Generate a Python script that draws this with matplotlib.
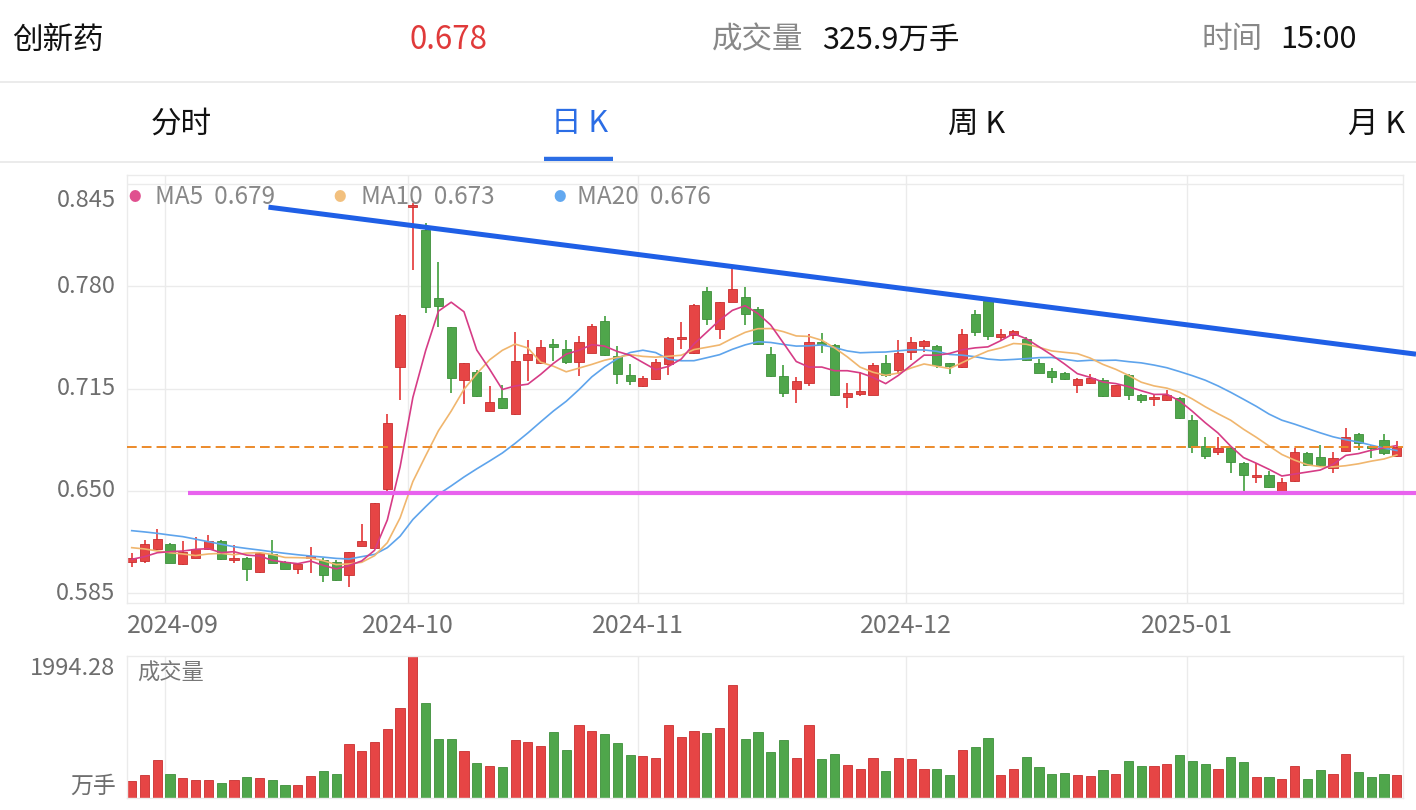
import numpy as np
import pandas as pd
import matplotlib
matplotlib.use('Agg')
import matplotlib.pyplot as plt

plt.rcParams['font.family'] = ['Noto Sans CJK SC', 'DejaVu Sans']

name = '创新药'
tabs = ['分时', '日 K', '周 K', '月 K']
active_tab = '日 K'
time_text = '15:00'

# daily candles (price in yuan)
opens = [0.6051, 0.6057, 0.6132, 0.6163, 0.6034, 0.6077, 0.6129, 0.6184, 0.6062, 0.6077,
         0.5983, 0.6098, 0.6051, 0.6005, 0.6072, 0.6062, 0.6051, 0.5966, 0.6153, 0.6136,
         0.6513, 0.7285, 0.8300, 0.8155, 0.7726, 0.7541, 0.7203, 0.7256, 0.7010, 0.7088,
         0.6989, 0.7331, 0.7311, 0.7433, 0.7398, 0.7321, 0.7376, 0.7577, 0.7359, 0.7238,
         0.7168, 0.7211, 0.7306, 0.7465, 0.7376, 0.7772, 0.7529, 0.7698, 0.7730, 0.7656,
         0.7372, 0.7228, 0.7150, 0.7188, 0.7446, 0.7429, 0.7097, 0.7114, 0.7108, 0.7309,
         0.7266, 0.7383, 0.7421, 0.7419, 0.7309, 0.7288, 0.7620, 0.7704, 0.7474, 0.7489,
         0.7467, 0.7309, 0.7260, 0.7250, 0.7172, 0.7182, 0.7207, 0.7102, 0.7235, 0.7108,
         0.7082, 0.7074, 0.7091, 0.6950, 0.6785, 0.6749, 0.6775, 0.6675, 0.6586, 0.6601,
         0.6495, 0.6565, 0.6738, 0.6717, 0.6643, 0.6756, 0.6860, 0.6785, 0.6822, 0.6721]
highs = [0.6108, 0.6189, 0.6256, 0.6172, 0.6184, 0.6206, 0.6220, 0.6188, 0.6157, 0.6083,
         0.6108, 0.6189, 0.6057, 0.6041, 0.6146, 0.6072, 0.6062, 0.6115, 0.6288, 0.6426,
         0.6987, 0.7622, 0.8327, 0.8198, 0.7954, 0.7541, 0.7314, 0.7267, 0.7164, 0.7173,
         0.7507, 0.7455, 0.7455, 0.7464, 0.7455, 0.7486, 0.7560, 0.7613, 0.7422, 0.7306,
         0.7230, 0.7338, 0.7476, 0.7571, 0.7688, 0.7793, 0.7702, 0.7912, 0.7793, 0.7666,
         0.7414, 0.7302, 0.7224, 0.7493, 0.7503, 0.7435, 0.7188, 0.7252, 0.7309, 0.7362,
         0.7461, 0.7478, 0.7461, 0.7425, 0.7315, 0.7525, 0.7647, 0.7732, 0.7525, 0.7520,
         0.7478, 0.7340, 0.7283, 0.7256, 0.7214, 0.7241, 0.7214, 0.7171, 0.7241, 0.7118,
         0.7108, 0.7139, 0.7097, 0.6981, 0.6845, 0.6845, 0.6781, 0.6686, 0.6675, 0.6628,
         0.6580, 0.6770, 0.6749, 0.6792, 0.6749, 0.6898, 0.6866, 0.6792, 0.6864, 0.6818]
lows = [0.6019, 0.6045, 0.6125, 0.6041, 0.6030, 0.6072, 0.6125, 0.6062, 0.6041, 0.5930,
        0.5981, 0.6041, 0.6003, 0.5971, 0.5981, 0.5920, 0.5931, 0.5892, 0.6151, 0.6132,
        0.6502, 0.7078, 0.7903, 0.7627, 0.7542, 0.7123, 0.7049, 0.7097, 0.7010, 0.7019,
        0.6985, 0.7200, 0.7307, 0.7327, 0.7307, 0.7228, 0.7376, 0.7355, 0.7180, 0.7175,
        0.7158, 0.7207, 0.7236, 0.7401, 0.7370, 0.7555, 0.7465, 0.7698, 0.7555, 0.7427,
        0.7224, 0.7097, 0.7055, 0.7165, 0.7376, 0.7104, 0.7028, 0.7101, 0.7108, 0.7225,
        0.7245, 0.7334, 0.7383, 0.7278, 0.7241, 0.7278, 0.7485, 0.7457, 0.7457, 0.7465,
        0.7327, 0.7246, 0.7188, 0.7204, 0.7123, 0.7178, 0.7097, 0.7102, 0.7076, 0.7059,
        0.7040, 0.7068, 0.6954, 0.6739, 0.6700, 0.6728, 0.6612, 0.6502, 0.6553, 0.6517,
        0.6495, 0.6559, 0.6659, 0.6654, 0.6616, 0.6749, 0.6760, 0.6707, 0.6728, 0.6717]
closes = [0.6077, 0.6163, 0.6193, 0.6045, 0.6115, 0.6132, 0.6184, 0.6066, 0.6077, 0.6005,
          0.6104, 0.6045, 0.6005, 0.6034, 0.6087, 0.5966, 0.5935, 0.6110, 0.6182, 0.6422,
          0.6930, 0.7618, 0.8315, 0.7669, 0.7673, 0.7214, 0.7314, 0.7101, 0.7063, 0.7027,
          0.7327, 0.7370, 0.7412, 0.7412, 0.7321, 0.7448, 0.7549, 0.7365, 0.7243, 0.7200,
          0.7219, 0.7321, 0.7469, 0.7476, 0.7681, 0.7592, 0.7698, 0.7783, 0.7624, 0.7433,
          0.7228, 0.7123, 0.7199, 0.7446, 0.7435, 0.7112, 0.7123, 0.7133, 0.7302, 0.7235,
          0.7376, 0.7446, 0.7450, 0.7299, 0.7292, 0.7493, 0.7506, 0.7482, 0.7495, 0.7516,
          0.7331, 0.7250, 0.7220, 0.7210, 0.7210, 0.7214, 0.7102, 0.7171, 0.7112, 0.7080,
          0.7097, 0.7108, 0.6960, 0.6781, 0.6721, 0.6770, 0.6686, 0.6601, 0.6601, 0.6527,
          0.6559, 0.6749, 0.6664, 0.6664, 0.6706, 0.6845, 0.6807, 0.6770, 0.6738, 0.6780]
# volume in 万手
volumes = [238, 321, 527, 331, 284, 252, 247, 205, 256, 294,
           284, 247, 186, 186, 303, 377, 340, 764, 657, 783,
           964, 1258, 1994.28, 1337, 829, 829, 657, 494, 447, 438,
           815, 783, 727, 923, 680, 1030, 941, 899, 769, 601,
           587, 568, 1020, 857, 937, 909, 978, 1589, 825, 923,
           648, 815, 559, 1020, 550, 615, 466, 410, 568, 377,
           568, 550, 410, 410, 317, 676, 713, 839, 321, 410,
           573, 433, 340, 354, 321, 308, 387, 335, 517, 452,
           447, 480, 606, 522, 480, 401, 573, 508, 289, 298,
           270, 443, 270, 391, 340, 624, 368, 298, 335, 325.9]
# moving averages before their window is full (earlier data not on screen)
ma5_head = [0.6066, 0.6083, 0.6108, 0.6115]
ma10_head = [0.6140, 0.6132, 0.6119, 0.6108, 0.6100, 0.6090, 0.6100, 0.6104, 0.6095]
ma20_head = [0.6248, 0.6240, 0.6231, 0.6220, 0.6210, 0.6194, 0.6178, 0.6162, 0.6146, 0.6135,
             0.6125, 0.6114, 0.6104, 0.6095, 0.6087, 0.6080, 0.6072, 0.6068, 0.6083]

price_ticks = [0.845, 0.780, 0.715, 0.650, 0.585]
holidays = ['2024-09-16', '2024-09-17', '2024-10-01', '2024-10-02', '2024-10-03',
            '2024-10-04', '2024-10-07']
# hand drawn lines on the chart: (bar index, price)
resistance = [(10.7, 0.8301), (100.5, 0.7368)]
support = [(4.4, 0.6484), (100.5, 0.6484)]

dates = pd.bdate_range('2024-08-28', '2025-01-24')
dates = dates[~dates.isin(pd.to_datetime(holidays))]

O = np.array(opens); H = np.array(highs); L = np.array(lows); C = np.array(closes)
V = np.array(volumes)
n = len(C)
x = np.arange(n)

cs = pd.Series(C)
ma = {}
for w, head in [(5, ma5_head), (10, ma10_head), (20, ma20_head)]:
    m = cs.rolling(w).mean().to_numpy()
    m[:w - 1] = head
    ma[w] = m

RED = '#e64545'
GREEN = '#4fa64b'
RED_E = '#c92f2f'
GREEN_E = '#3d8f3a'
GRID = '#ebebeb'
GRAY = '#6e6e6e'

W, Hh = 1416, 810
fig = plt.figure(figsize=(W / 100, Hh / 100), dpi=100)

def fx(px):
    return px / W

def fy(py):
    return 1 - py / Hh

# header
fig.text(fx(12), fy(40), name, fontsize=22, color='#111111', va='center', ha='left')
fig.text(fx(448), fy(40), f'{C[-1]:.3f}', fontsize=22.5, color='#e03a3a', va='center', ha='center')
fig.text(fx(712), fy(40), '成交量', fontsize=22, color='#888888', va='center', ha='left')
fig.text(fx(822), fy(40), f'{V[-1]:.1f}万手', fontsize=22, color='#111111', va='center', ha='left')
fig.text(fx(1202), fy(40), '时间', fontsize=22, color='#888888', va='center', ha='left')
fig.text(fx(1280), fy(40), time_text, fontsize=22, color='#111111', va='center', ha='left')
fig.add_artist(plt.Line2D([0, 1], [fy(82), fy(82)], color='#e8e8e8', lw=1.2))

tab_x = [181, 580, 977, 1377]
for t, tx in zip(tabs, tab_x):
    col = '#2b6de5' if t == active_tab else '#111111'
    fig.text(fx(tx), fy(124), t, fontsize=22, color=col, va='center', ha='center')
fig.add_artist(plt.Line2D([fx(544), fx(613)], [fy(159), fy(159)], color='#2b6de5', lw=3.2,
                          solid_capstyle='butt'))
fig.add_artist(plt.Line2D([0, 1], [fy(162), fy(162)], color='#e8e8e8', lw=1.2))

# price panel
ax = fig.add_axes([fx(127), fy(603.3), fx(1403 - 127), (603.3 - 175) / Hh])
axv = fig.add_axes([fx(127), fy(798), fx(1403 - 127), (798 - 656) / Hh])

xmin, xmax = -0.37, 99.48
month_idx = [i for i in range(1, n) if dates[i].month != dates[i - 1].month]
month_pos = [i - 0.4 for i in month_idx]
month_lab = [dates[i].strftime('%Y-%m') for i in month_idx]

for a in (ax, axv):
    a.set_xlim(xmin, xmax)
    a.set_xticks([])
    a.set_yticks([])
    for s in a.spines.values():
        s.set_color(GRID)
        s.set_linewidth(1)
    for mp in month_pos:
        a.axvline(mp, color=GRID, lw=1, zorder=0)

ax.set_ylim(0.5787, 0.8505)
for p in price_ticks:
    ax.axhline(p, color=GRID, lw=1, zorder=0)
    top = p == max(price_ticks)
    ax.text(-0.009, p - (0.0035 if top else 0), f'{p:.3f}', transform=ax.get_yaxis_transform(),
            ha='right', va='top' if top else 'center', fontsize=17, color=GRAY)

up = C >= O
colors = np.where(up, RED, GREEN)
edges = np.where(up, RED_E, GREEN_E)
ax.vlines(x, L, H, colors=colors, lw=1.3, zorder=2)
ax.bar(x, np.maximum(np.abs(C - O), 0.0007), bottom=np.minimum(O, C), width=0.72,
       color=colors, edgecolor=edges, linewidth=0.6, zorder=2)

ax.plot(x, ma[20], color='#5ea4ec', lw=1.2, zorder=3)
ax.plot(x, ma[10], color='#f0b66e', lw=1.2, zorder=3)
ax.plot(x, ma[5], color='#d63c86', lw=1.2, zorder=3)

ax.axhline(C[-1], color='#ec8a2a', lw=1.4, ls=(0, (5, 2.6)), zorder=3)
ax.plot([p[0] for p in resistance], [p[1] for p in resistance], color='#1f5fe6', lw=3.6,
        clip_on=False, zorder=5, solid_capstyle='butt')
ax.plot([p[0] for p in support], [p[1] for p in support], color='#e862ee', lw=3.0,
        clip_on=False, zorder=5, solid_capstyle='butt')

# legend row
leg = [(5, '#e0508f', 135, 155), (10, '#f2c07e', 340, 361), (20, '#62a8f0', 560, 577)]
for w, col, dx, tx in leg:
    fig.text(fx(dx), fy(197), '●', fontsize=9, color=col, ha='center', va='center')
    fig.text(fx(tx), fy(197), f'MA{w}  {ma[w][-1]:.3f}', fontsize=17.5, color='#888888',
             ha='left', va='center')

# month labels
for k, (mp, lab) in enumerate(zip(month_pos, month_lab)):
    if k == 0:
        ax.text(xmin, -0.052, lab, transform=ax.get_xaxis_transform(), ha='left', va='center',
                fontsize=18, color=GRAY)
    else:
        ax.text(mp, -0.052, lab, transform=ax.get_xaxis_transform(), ha='center', va='center',
                fontsize=18, color=GRAY)

# volume panel
axv.set_ylim(0, V.max())
axv.bar(x, V, width=0.72, color=colors, edgecolor=edges, linewidth=0.6, zorder=2)
axv.text(-0.009, 0.99, f'{V.max():.2f}', transform=axv.transAxes, ha='right', va='top',
         fontsize=17, color=GRAY)
axv.text(-0.009, 0.0, '万手', transform=axv.transAxes, ha='right', va='bottom',
         fontsize=16.5, color=GRAY)
axv.text(0.008, 0.88, '成交量', transform=axv.transAxes, ha='left', va='center',
         fontsize=16, color='#777777')

fig.savefig('out.png', dpi=100)
